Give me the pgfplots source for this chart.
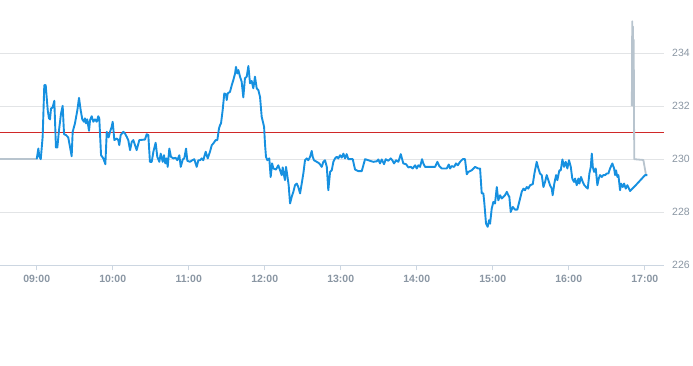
\documentclass[border=0pt]{standalone}
\usepackage{fontspec}
\setmainfont{Liberation Sans}
\usepackage{pgfplots}
\pgfplotsset{compat=1.18}
\definecolor{lineblue}{RGB}{22,144,224}
\definecolor{linegray}{RGB}{184,196,206}
\definecolor{gridgray}{RGB}{226,228,230}
\definecolor{axisgray}{RGB}{204,214,225}
\definecolor{labelgray}{RGB}{138,150,163}
\definecolor{refred}{RGB}{208,40,40}
\begin{document}
\begin{tikzpicture}
\useasboundingbox (0,0) rectangle (693pt,365pt);
\begin{axis}[
  at={(0pt,99.7pt)}, anchor=south west,
  scale only axis, width=664pt, height=265.3pt,
  xmin=-28.97, xmax=495.2, ymin=226, ymax=236,
  axis x line*=bottom, axis y line*=right,
  y axis line style={draw=none},
  x axis line style={draw=axisgray, line width=1pt, -},
  xtick={0,60,120,180,240,300,360,420,480},
  xticklabels={09:00,10:00,11:00,12:00,13:00,14:00,15:00,16:00,17:00},
  ytick={226,228,230,232,234},
  ymajorgrids, grid style={draw=gridgray, line width=1pt},
  tick align=outside,
  x tick style={draw=axisgray, line width=1pt},
  y tick style={draw=none},
  major tick length=5pt,
  /pgf/number format/assume math mode=true,
  xticklabel style={font=\fontsize{10.5}{12}\selectfont\bfseries, text=labelgray, yshift=-1pt},
  yticklabel style={font=\fontsize{10.5}{12}\selectfont, text=labelgray, anchor=west, inner sep=0pt, xshift=3pt},
  clip=false,
]
\addplot[refred, line width=1pt] coordinates {(-28.97,231) (495.2,231)};
\addplot[linegray, line width=1.8pt, line join=round] coordinates {
(-28.97,230.0) (0,230.0)
};
\addplot[linegray, line width=1.8pt, line join=round] coordinates {
(469.8,232.0) (470.1,235.2) (470.4,232.1) (470.7,235.0) (471.0,232.0) (471.3,234.5) (471.5,232.0) (471.7,230.0) (478.9,229.97) (481.0,229.4)
};
\addplot[lineblue, line width=1.9pt, line join=round] coordinates {
(0,230.0) (1.3,230.4) (2.1,230.09) (3.2,230.0) (4.7,230.84) (6.0,232.79) (7.1,232.79) (8.7,231.85) (9.7,231.54) (10.5,231.5)
(11.3,231.91) (12.6,231.95) (13.9,232.2) (15.2,230.44) (16.3,230.44) (17.6,231.09) (19.2,231.72) (20.5,232.01) (21.6,230.94) (23.1,230.91)
(24.9,230.82) (26.3,230.46) (27.6,230.11) (28.4,231.03) (30.2,231.35) (32.1,231.85) (33.4,232.31) (34.7,231.85) (36.0,231.5) (37.3,231.41)
(38.1,231.54) (38.9,231.35) (39.9,231.5) (41.3,231.07) (42.1,231.47) (43.4,231.62) (44.7,231.41) (46.0,231.5) (47.4,231.41) (48.6,231.62)
(49.4,231.54) (50.8,230.15) (52.6,230.03) (54.2,229.81) (55.3,231.03) (56.8,230.82) (57.9,231.03) (59.2,231.22) (60.0,231.41) (61.3,230.72)
(63.2,230.78) (64.4,230.72) (65.2,230.53) (66.3,230.91) (68.4,231.03) (69.7,230.97) (71.1,230.84) (72.3,230.72) (73.7,230.34) (75.0,230.65)
(76.3,230.72) (77.6,230.53) (78.9,230.34) (81.0,230.72) (85.5,230.74) (86.8,230.94) (88.1,230.91) (89.4,229.9) (90.8,229.9) (92.1,230.28)
(93.9,230.62) (95.2,230.09) (96.8,229.9) (97.9,230.21) (99.5,229.9) (100.5,230.15) (101.5,229.84) (102.6,230.03) (103.4,229.71) (104.7,230.4)
(106.0,230.09) (107.8,230.03) (109.7,230.05) (111.0,229.96) (112.6,230.15) (113.7,229.71) (115.3,229.99) (116.5,230.03) (117.9,230.4) (118.9,229.94)
(121.0,229.9) (122.8,229.96) (124.4,230.0) (126.3,229.71) (127.6,229.96) (128.9,229.96) (130.3,230.03) (131.5,229.96) (133.4,230.28) (135.0,230.03)
(136.8,230.28) (138.2,230.53) (139.4,230.59) (141.3,230.72) (142.6,230.72) (143.9,231.16) (144.7,231.28) (145.5,231.35) (146.8,231.85) (148.1,232.48)
(149.4,232.45) (150.0,232.23) (150.8,232.48) (152.6,232.54) (154.0,232.79) (155.2,232.98) (156.6,233.23) (157.3,233.48) (158.4,233.23) (159.2,233.36)
(160.5,233.11) (161.8,232.92) (163.1,232.33) (164.4,233.05) (165.8,233.11) (167.1,233.51) (168.4,232.86) (169.7,232.95) (171.0,232.67) (172.3,233.11)
(173.7,232.67) (175.0,232.6) (176.3,232.35) (177.6,231.6) (179.5,231.22) (180.2,230.59) (181.0,230.09) (182.1,229.96) (183.6,230.03) (184.7,229.33)
(185.8,229.84) (186.8,229.65) (188.9,229.61) (190.7,229.77) (192.1,229.58) (193.4,229.4) (194.2,229.69) (195.2,229.4) (196.0,229.21) (196.8,229.71)
(197.8,229.4) (198.9,229.02) (200.0,228.33) (201.3,228.58) (202.6,228.77) (203.9,229.02) (205.3,229.08) (206.5,228.95) (207.9,228.71) (209.2,229.08)
(210.5,229.46) (211.8,229.96) (213.2,230.03) (214.4,229.96) (215.8,230.09) (217.1,230.31) (217.9,230.09) (218.9,229.96) (221.1,229.9) (223.1,229.84)
(225.0,229.71) (226.3,229.9) (227.6,229.96) (229.0,229.71) (230.2,228.83) (231.6,229.52) (232.9,229.58) (234.2,229.9) (235.5,230.03) (236.9,230.09)
(238.1,230.03) (239.5,230.15) (240.8,230.06) (242.1,230.21) (243.4,230.03) (244.7,230.19) (246.0,230.0) (249.5,230.0) (251.3,229.61) (253.9,229.55)
(256.6,229.55) (259.2,230.0) (261.8,229.96) (265.7,229.9) (268.4,229.92) (269.7,229.99) (271.0,229.84) (272.4,229.99) (274.2,229.81) (275.5,230.0)
(277.6,229.94) (279.5,230.03) (280.7,229.96) (282.1,229.84) (283.7,229.96) (285.5,229.9) (287.4,230.19) (289.4,229.84) (291.6,229.81) (293.4,229.69)
(295.3,229.71) (296.8,229.65) (298.7,229.77) (300.0,229.65) (301.3,229.77) (302.6,229.71) (304.2,230.0) (305.2,229.84) (306.6,229.71) (314.5,229.71)
(316.3,229.9) (317.8,229.74) (319.7,229.65) (323.7,229.65) (325.3,229.8) (326.3,229.65) (327.6,229.74) (329.5,229.71) (331.0,229.84) (332.4,229.77)
(334.2,229.9) (336.3,230.0) (338.1,230.0) (339.5,229.43) (340.7,229.52) (343.4,229.58) (346.0,229.71) (348.6,229.65) (350.0,229.65) (351.3,228.71)
(352.6,228.71) (353.4,228.33) (354.7,227.57) (356.0,227.45) (357.1,227.7) (357.9,227.57) (359.2,228.14) (360.5,228.39) (361.8,228.33) (363.2,228.95)
(364.4,228.45) (365.8,228.64) (367.1,228.52) (368.4,228.58) (369.7,228.64) (371.1,228.77) (372.3,228.64) (373.1,228.58) (374.2,228.01) (375.8,228.2)
(377.6,228.1) (379.4,228.1) (381.6,228.52) (382.9,228.77) (384.2,228.89) (385.5,228.83) (386.8,228.95) (388.1,228.89) (389.5,229.02) (391.6,229.06)
(392.9,229.46) (394.7,229.9) (396.0,229.65) (397.3,229.46) (398.7,229.4) (400.0,228.95) (401.3,229.14) (402.6,229.4) (403.9,229.21) (405.2,229.02)
(406.6,228.89) (407.3,228.64) (408.6,229.08) (410.0,229.4) (411.0,229.21) (412.6,229.58) (413.7,229.58) (415.0,229.99) (416.3,229.71) (417.6,229.9)
(418.9,229.65) (420.2,229.96) (421.6,229.71) (422.8,229.27) (424.2,229.14) (425.0,229.27) (426.3,229.02) (427.6,229.27) (428.4,229.08) (429.7,229.33)
(431.1,229.14) (432.3,229.02) (433.7,228.95) (435.0,228.89) (436.3,229.46) (437.4,229.71) (438.2,230.21) (439.0,229.71) (440.0,229.52) (441.3,229.65)
(442.6,229.02) (443.7,229.27) (444.7,229.4) (446.1,229.33) (447.3,229.4) (448.7,229.4) (450.0,229.46) (451.3,229.46) (452.6,229.65) (454.4,229.84)
(455.8,229.65) (456.6,229.4) (457.3,229.58) (458.4,229.33) (459.2,229.4) (460.5,228.83) (461.3,229.08) (462.6,228.95) (463.7,229.08) (465.0,228.89)
(466.3,229.02) (468.4,228.8) (473.7,229.06) (478.9,229.33) (480.2,229.4) (482.1,229.4)
};
\end{axis}
\end{tikzpicture}
\end{document}
